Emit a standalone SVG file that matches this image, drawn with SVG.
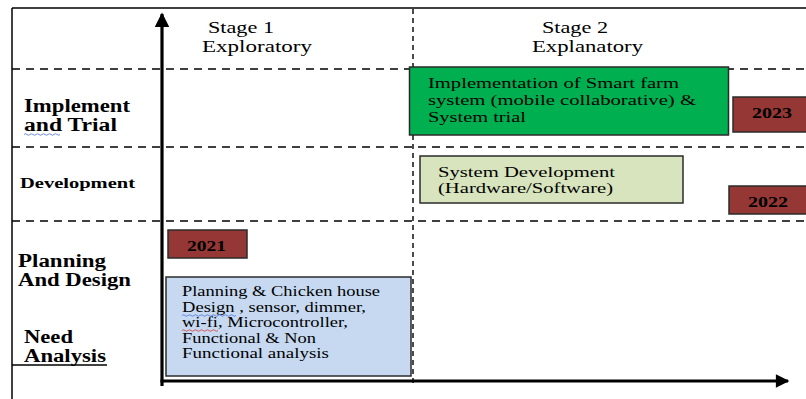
<svg xmlns="http://www.w3.org/2000/svg" width="806" height="399" viewBox="0 0 806 399">
<style>
.serif{font-family:"Liberation Serif","Times New Roman",serif;fill:#000}
.lbl{font-weight:bold;font-size:18px}
.stage{font-size:17px}
.yr{font-weight:bold;font-size:14px}
.dash{stroke:#000;stroke-width:1.4;stroke-dasharray:8 6;fill:none}
.vdash{stroke:#000;stroke-width:1.4;stroke-dasharray:5 4;fill:none}
.box{stroke:#2b2b2b;stroke-width:1.5}
.year{fill:#953735;stroke:#2b2b2b;stroke-width:1.5}
.squig{fill:none;stroke-width:0.8}
.g{font-size:15.2px}
.b{font-size:14px}
</style>
<defs>
<marker id="ah" viewBox="0 0 10 10" refX="9" refY="5" markerWidth="5" markerHeight="4.5" markerUnits="strokeWidth" orient="auto">
<path d="M0,0 L10,5 L0,10 z" fill="#000"/>
</marker>
</defs>
<rect width="806" height="399" fill="#fff"/>
<g id="frame">
<line x1="12" y1="8" x2="806" y2="8" stroke="#000" stroke-width="1.5"/>
<line x1="12" y1="8" x2="12" y2="399" stroke="#000" stroke-width="1.5"/>
<line x1="12" y1="365" x2="107" y2="365" stroke="#000" stroke-width="1.3"/>
</g>
<g id="grid">
<line class="dash" x1="12" y1="69" x2="806" y2="69"/>
<line class="dash" x1="12" y1="147" x2="806" y2="147"/>
<line class="dash" x1="12" y1="221" x2="806" y2="221"/>
<line class="vdash" x1="413" y1="9" x2="413" y2="386"/>
</g>
<g id="stage1">
<text class="serif stage" x="208" y="33" textLength="66" lengthAdjust="spacingAndGlyphs">Stage 1</text>
<text class="serif stage" x="202" y="52" textLength="110" lengthAdjust="spacingAndGlyphs">Exploratory</text>
</g>
<g id="stage2">
<text class="serif stage" x="542" y="33" textLength="66" lengthAdjust="spacingAndGlyphs">Stage 2</text>
<text class="serif stage" x="532" y="52" textLength="111" lengthAdjust="spacingAndGlyphs">Explanatory</text>
</g>
<g id="row-implement">
<text class="serif lbl" x="24" y="112" textLength="106" lengthAdjust="spacingAndGlyphs">Implement</text>
<text class="serif lbl" x="24" y="131" textLength="93" lengthAdjust="spacingAndGlyphs">and Trial</text>
<path class="squig" stroke="#4a6fd8" d="M24,134.5 q1.5,-1.5 3,0 t3,0 t3,0 t3,0 t3,0 t3,0 t3,0 t3,0 t3,0 t3,0 t3,0 t3,0"/>
</g>
<g id="row-development">
<text class="serif lbl" style="font-size:15.5px" x="20" y="188" textLength="115" lengthAdjust="spacingAndGlyphs">Development</text>
</g>
<g id="row-planning">
<text class="serif lbl" x="18" y="267" textLength="88" lengthAdjust="spacingAndGlyphs">Planning</text>
<text class="serif lbl" x="18" y="286" textLength="113" lengthAdjust="spacingAndGlyphs">And Design</text>
</g>
<g id="row-need">
<text class="serif lbl" x="24" y="343" textLength="49" lengthAdjust="spacingAndGlyphs">Need</text>
<text class="serif lbl" x="24" y="362" textLength="82" lengthAdjust="spacingAndGlyphs">Analysis</text>
</g>
<g id="connectors">
<line x1="162" y1="386" x2="162" y2="14" stroke="#000" stroke-width="3.2" marker-end="url(#ah)"/>
<line x1="160.5" y1="381" x2="788" y2="381" stroke="#000" stroke-width="3" marker-end="url(#ah)"/>
</g>
<g id="node-implementation">
<rect class="box" x="409.5" y="67" width="319" height="68" fill="#00B050"/>
<text class="serif g" x="428" y="88" textLength="251" lengthAdjust="spacingAndGlyphs">Implementation of Smart farm</text>
<text class="serif g" x="428" y="105" textLength="268" lengthAdjust="spacingAndGlyphs">system (mobile collaborative) &amp;</text>
<text class="serif g" x="428" y="122" textLength="98" lengthAdjust="spacingAndGlyphs">System trial</text>
</g>
<g id="node-2023">
<rect class="year" x="733" y="97" width="80" height="35"/>
<text class="serif yr" x="752" y="118" textLength="40" lengthAdjust="spacingAndGlyphs">2023</text>
</g>
<g id="node-system-development">
<rect class="box" x="420" y="156" width="263" height="47" fill="#D7E4BD"/>
<text class="serif" style="font-size:15.2px" x="438" y="177" textLength="177" lengthAdjust="spacingAndGlyphs">System Development</text>
<text class="serif" style="font-size:15.2px" x="438" y="193" textLength="175" lengthAdjust="spacingAndGlyphs">(Hardware/Software)</text>
</g>
<g id="node-2022">
<rect class="year" x="729" y="186" width="84" height="28"/>
<text class="serif yr" x="748" y="207" textLength="40" lengthAdjust="spacingAndGlyphs">2022</text>
</g>
<g id="node-2021">
<rect class="year" x="168" y="230" width="79" height="28"/>
<text class="serif yr" x="187" y="251" textLength="39" lengthAdjust="spacingAndGlyphs">2021</text>
</g>
<g id="node-planning-design">
<rect class="box" x="166" y="277" width="245" height="99" fill="#C6D9F1"/>
<text class="serif b" x="182" y="296" textLength="198" lengthAdjust="spacingAndGlyphs">Planning &amp; Chicken house</text>
<text class="serif b" x="182" y="312" textLength="184" lengthAdjust="spacingAndGlyphs">Design , sensor, dimmer,</text>
<text class="serif b" x="182" y="327" textLength="166" lengthAdjust="spacingAndGlyphs">wi-fi, Microcontroller,</text>
<text class="serif b" x="182" y="343" textLength="134" lengthAdjust="spacingAndGlyphs">Functional &amp; Non</text>
<text class="serif b" x="182" y="358" textLength="147" lengthAdjust="spacingAndGlyphs">Functional  analysis</text>
<path class="squig" stroke="#4a6fd8" d="M182,315.5 q1.5,-1.5 3,0 t3,0 t3,0 t3,0 t3,0 t3,0 t3,0 t3,0 t3,0 t3,0 t3,0 t3,0 t3,0 t3,0 t3,0 t3,0 t3,0 t3,0"/>
<path class="squig" stroke="#d83a3a" d="M182,330.5 q1.5,-1.5 3,0 t3,0 t3,0 t3,0 t3,0 t3,0 t3,0 t3,0 t3,0 t3,0 t3,0 t3,0"/>
</g>
</svg>
